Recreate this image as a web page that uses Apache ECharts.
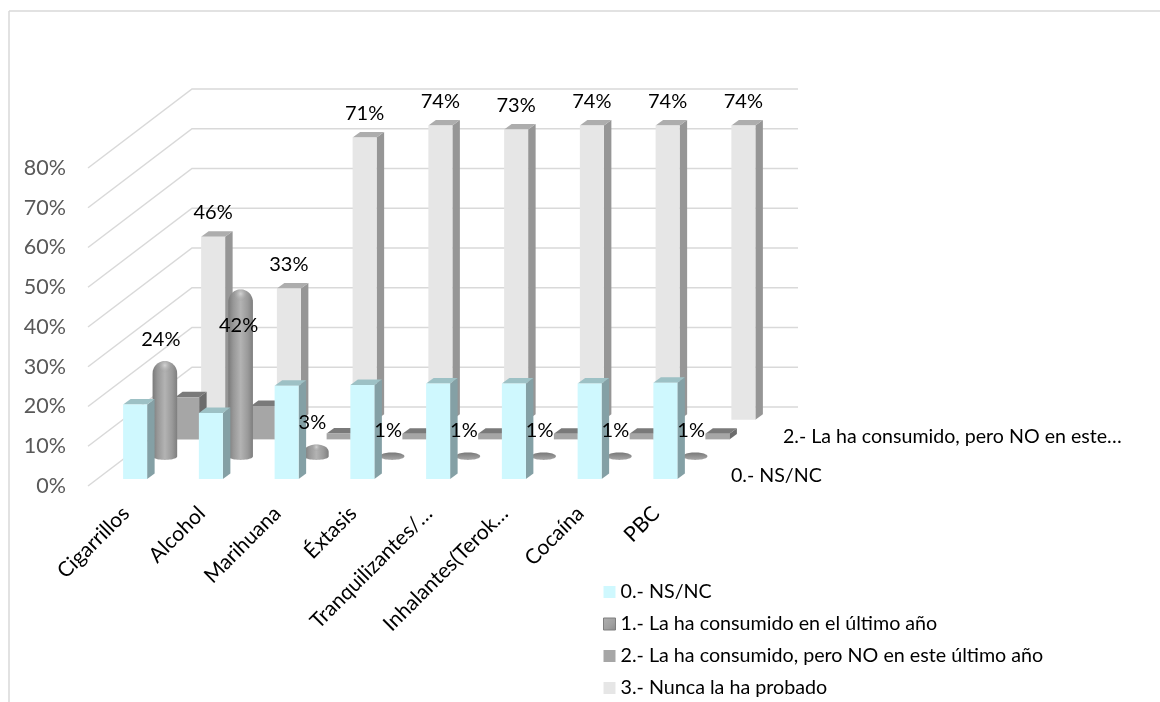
<!DOCTYPE html>
<html><head><meta charset="utf-8">
<style>html,body{margin:0;padding:0;background:#fff}#c{width:1160px;height:702px}</style>
<script src="https://cdn.jsdelivr.net/npm/echarts@6/dist/echarts.min.js"></script>
</head><body><div id="c"></div>
<script>
const categories = ['Cigarrillos','Alcohol','Marihuana','Éxtasis','Tranquilizantes/…','Inhalantes(Terok…','Cocaína','PBC'];
const seriesNames = ['0.- NS/NC','1.- La ha consumido en el último año','2.- La ha consumido, pero NO en este último año','3.- Nunca la ha probado'];
const nsnc      = [18.7,16.6,23.4,23.6,24.0,24.0,24.0,24.2];
const ultimoAno = [24,42,3,1,1,1,1,1];
const noEsteAno = [10.6,8.4,1.5,1.4,1.4,1.4,1.4,1.4];
const nunca     = [46,33,71,74,73,74,74,74];
const yTicks    = [0,10,20,30,40,50,60,70,80];
const depthTicks  = [0,2];
const depthLabels = ['0.- NS/NC','2.- La ha consumido, pero NO en este…'];

const FONT = 'Lato, Carlito, sans-serif';
const DX = 104, DY = 79, SX = DX/4, SY = DY/4, BDX = 7.5, BDY = 5.5;

function slot(api, params, cat, k){
  const base = api.coord([cat,0]);
  return {x: base[0]+(k+.5)*SX, y: base[1]-(k+.5)*SY, w: api.size([1,0])[0]*0.317};
}
function boxRender(k, front, side, top){
  return function(params, api){
    const cat = api.value(0), v = api.value(1), s = slot(api, params, cat, k);
    const fx = s.x-BDX/2-s.w/2, fy = s.y+BDY/2, h = api.size([0,v])[1];
    const t = fy-h, r = fx+s.w;
    return {type:'group',children:[
      {type:'polygon',shape:{points:[[r,fy],[r+BDX,fy-BDY],[r+BDX,t-BDY],[r,t]]},style:{fill:side}},
      {type:'polygon',shape:{points:[[fx,t],[fx+BDX,t-BDY],[r+BDX,t-BDY],[r,t]]},style:{fill:top}},
      {type:'rect',shape:{x:fx,y:t,width:s.w,height:h},style:{fill:front}}
    ]};
  };
}
function cylRender(k){
  return function(params, api){
    const cat = api.value(0), v = api.value(1), s = slot(api, params, cat, k);
    const rx = s.w/2+0.3, ry = 3.5, h = api.size([0,v])[1];
    const topY = s.y-h, dome = v<2 ? h : (v<5 ? h*0.62 : 12.5);
    const shoulder = topY+dome;
    const pts = [], dpts = [];
    for(let a=0;a<=24;a++){
      const t = Math.PI*a/24;
      const p = [s.x-rx*Math.cos(t), shoulder-dome*Math.sin(t)];
      pts.push(p); dpts.push(p);
    }
    for(let a=0;a<=24;a++){
      const t = Math.PI*a/24;
      pts.push([s.x+rx*Math.cos(t), s.y+ry*Math.sin(t)]);
    }
    const body = v<2
      ? new echarts.graphic.LinearGradient(0,0,0,1,[{offset:0,color:'#787878'},{offset:1,color:'#a8a8a8'}])
      : new echarts.graphic.LinearGradient(0,0,1,0,[
          {offset:0,color:'#7a7a7a'},{offset:.2,color:'#979797'},{offset:.5,color:'#b3b3b3'},{offset:.8,color:'#999999'},{offset:1,color:'#7e7e7e'}]);
    const kids = [{type:'polygon',shape:{points:pts},style:{fill:body}}];
    if(v>=2){
      kids.push({type:'polygon',shape:{points:dpts},style:{fill:new echarts.graphic.RadialGradient(.5,.35,.6,[
        {offset:0,color:'rgba(215,215,215,0.9)'},{offset:.7,color:'rgba(175,175,175,0.25)'},{offset:1,color:'rgba(140,140,140,0)'}])}});
    }
    return {type:'group',children:kids};
  };
}
function labelRender(k){
  return function(params, api){
    const cat = api.value(0), v = api.value(1), s = slot(api, params, cat, k);
    const h = api.size([0,v])[1];
    const moved = k===1 && v===42;
    const y = k===3 ? s.y+BDY/2-h-BDY-18.5 : s.y-h+(moved?36:-21.5);
    const x = k===3 ? s.x-BDX/2 : s.x+(moved?-2:-4);
    return {type:'text',x:x,y:y,style:{text:v+'%',fill:'#000',font:'20px '+FONT,align:'center',verticalAlign:'middle',textAlign:'center',textVerticalAlign:'middle'}};
  };
}
const pairs = a => a.map((v,i)=>[i,v]);
const cylLegend = new echarts.graphic.LinearGradient(0,0,1,1,[{offset:0,color:'#b0b0b0'},{offset:.6,color:'#a0a0a0'},{offset:1,color:'#8a8a8a'}]);

const option = {
  animation:false, backgroundColor:'#fff',
  textStyle:{fontFamily:FONT},
  grid:{left:88,top:168,width:606,height:318,containLabel:false},
  xAxis:{type:'category',data:categories,axisLine:{show:false},axisTick:{show:false},splitLine:{show:false},
    axisLabel:{interval:0,rotate:45,margin:24,fontSize:21,color:'#000',fontFamily:FONT}},
  yAxis:{type:'value',min:0,max:80,interval:10,axisLine:{show:false},axisTick:{show:false},splitLine:{show:false},
    axisLabel:{formatter:'{value}%',fontSize:21.5,color:'#595959',margin:22,fontFamily:FONT}},
  legend:{show:true,orient:'vertical',left:603,top:581,padding:0,itemWidth:12,itemHeight:12,itemGap:10,selectedMode:false,
    textStyle:{fontSize:19.7,color:'#000',fontFamily:FONT,lineHeight:22},
    data:[
      {name:seriesNames[0],icon:'rect',itemStyle:{color:'#CFF8FE'}},
      {name:seriesNames[1],icon:'rect',itemStyle:{color:cylLegend,borderColor:'#7f7f7f',borderWidth:1}},
      {name:seriesNames[2],icon:'rect',itemStyle:{color:'#A6A6A6'}},
      {name:seriesNames[3],icon:'rect',itemStyle:{color:'#E6E6E6'}}
    ]},
  graphic:[
    {type:'line',z:0,shape:{x1:9,y1:11,x2:1160,y2:11},style:{stroke:'#D9D9D9',lineWidth:1.5}},
    {type:'line',z:0,shape:{x1:9,y1:11,x2:9,y2:702},style:{stroke:'#D9D9D9',lineWidth:1.5}}
  ],
  series:[
    {type:'custom',name:'rejilla',z:1,silent:true,clip:false,data:yTicks.map(t=>[0,t]),encode:{x:0,y:1},
      renderItem:(params,api)=>{
        const y = api.coord([0,api.value(1)])[1], l = params.coordSys.x, w = params.coordSys.width;
        return {type:'polyline',shape:{points:[[l,y],[l+DX,y-DY],[l+w+DX,y-DY]]},style:{stroke:'#D9D9D9',lineWidth:1.5,fill:null}};
      }},
    {type:'custom',name:seriesNames[0],z:6,clip:false,data:pairs(nsnc),encode:{x:0,y:1},itemStyle:{color:'#CFF8FE'},
      renderItem:boxRender(0,'#CFF8FE','#84A0A5','#9DC1C5')},
    {type:'custom',name:seriesNames[1],z:5,clip:false,data:pairs(ultimoAno),encode:{x:0,y:1},itemStyle:{color:'#9a9a9a'},
      renderItem:cylRender(1)},
    {type:'custom',name:seriesNames[2],z:4,clip:false,data:pairs(noEsteAno),encode:{x:0,y:1},itemStyle:{color:'#A6A6A6'},
      renderItem:boxRender(2,'#A6A6A6','#6C6C6C','#7A7A7A')},
    {type:'custom',name:seriesNames[3],z:3,clip:false,data:pairs(nunca),encode:{x:0,y:1},itemStyle:{color:'#E6E6E6'},
      renderItem:boxRender(3,'#E6E6E6','#969696','#ADADAD')},
    {type:'custom',name:'etiquetas1',z:8,silent:true,clip:false,data:pairs(ultimoAno),encode:{x:0,y:1},renderItem:labelRender(1)},
    {type:'custom',name:'etiquetas3',z:8,silent:true,clip:false,data:pairs(nunca),encode:{x:0,y:1},renderItem:labelRender(3)},
    {type:'custom',name:'profundidad',z:8,silent:true,clip:false,data:depthTicks.map((k,i)=>[k,0,i]),encode:{x:0,y:1},
      renderItem:(params,api)=>{
        const k = api.value(0), i = api.value(2), c = params.coordSys;
        return {type:'text',x:c.x+c.width+(k+.5)*SX+24,y:c.y+c.height-(k+.5)*SY,
          style:{text:depthLabels[i],fill:'#000',font:'19.6px '+FONT,align:'left',verticalAlign:'middle',textAlign:'left',textVerticalAlign:'middle'}};
      }}
  ]
};
const chart = echarts.init(document.getElementById('c'),null,{renderer:'canvas'});
chart.setOption(option);
</script></body></html>
